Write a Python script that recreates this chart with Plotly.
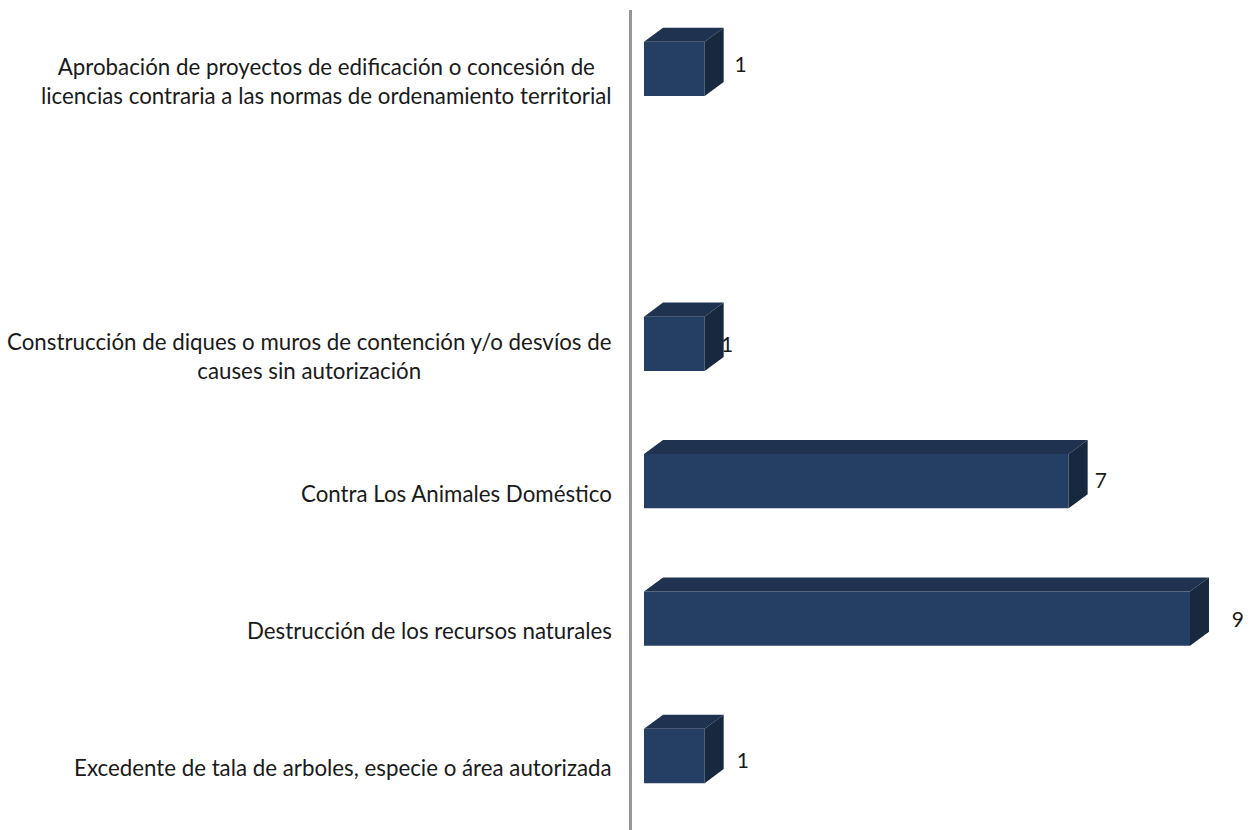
"""Horizontal bars with a drawn 3D look (front, top and side faces)"""

import plotly.graph_objects as go

# Bottom to top, the blank one is the empty slot in the chart
categories = [
    "Excedente de tala de arboles, especie o área autorizada",
    "Destrucción de los recursos naturales",
    "Contra Los Animales Doméstico",
    "Construcción de diques o muros de contención y/o desvíos de<br>causes sin autorización",
    "",
    "Aprobación de proyectos de edificación o concesión de<br>licencias contraria a las normas de ordenamiento territorial",
]
values = [1, 9, 7, 1, None, 1]

# how far each value label sits from the bar end
label_dx = [0.63, 0.79, 0.53, 0.37, 0, 0.59]
label_dy = [-0.046, -0.022, -0.015, -0.022, 0, 0.018]

FRONT = "#243F63"
TOP = "#1F3350"
SIDE = "#18293F"
AXIS_GREY = "#969696"
TEXT = "#1a1a1a"
FONT = "Lato"

BAR_WIDTH = 0.395
DEPTH_X = 0.313
DEPTH_Y = 0.102
LABEL_SHIFT = -0.087  # category text sits a bit under its bar

idx = list(range(len(categories)))
shown = [i for i in idx if values[i] is not None]

top_x, top_y, side_x, side_y = [], [], [], []
for i in shown:
    v = values[i]
    lo = i - BAR_WIDTH / 2
    hi = i + BAR_WIDTH / 2
    top_x += [0, DEPTH_X, v + DEPTH_X, v, 0, None]
    top_y += [hi, hi + DEPTH_Y, hi + DEPTH_Y, hi, hi, None]
    side_x += [v, v + DEPTH_X, v + DEPTH_X, v, v, None]
    side_y += [lo, lo + DEPTH_Y, hi + DEPTH_Y, hi, lo, None]

fig = go.Figure()

fig.add_trace(
    go.Bar(
        y=idx,
        x=values,
        orientation="h",
        width=BAR_WIDTH,
        marker=dict(color=FRONT, line=dict(width=0)),
    )
)

# Labels go first so the side face can cover the one it overlaps
fig.add_trace(
    go.Scatter(
        x=[values[i] + label_dx[i] for i in shown],
        y=[i + label_dy[i] for i in shown],
        text=[str(values[i]) for i in shown],
        mode="text",
        textposition="middle center",
        textfont=dict(family=FONT, size=21, color=TEXT),
        cliponaxis=False,
    )
)

for xs, ys, color in [(top_x, top_y, TOP), (side_x, side_y, SIDE)]:
    fig.add_trace(
        go.Scatter(
            x=xs,
            y=ys,
            mode="lines",
            fill="toself",
            fillcolor=color,
            line=dict(width=0, color=color),
            hoverinfo="skip",
        )
    )

# Category labels are annotations since wrapped ones are centred on themselves
for i in idx:
    if categories[i]:
        fig.add_annotation(
            x=-0.0289,
            xref="paper",
            y=i + LABEL_SHIFT,
            yref="y",
            text=categories[i],
            showarrow=False,
            xanchor="right",
            yanchor="middle",
            align="center",
            font=dict(family=FONT, size=22.3, color=TEXT),
        )

fig.update_layout(
    width=1254,
    height=830,
    margin=dict(l=632, r=0, t=10, b=0),
    paper_bgcolor="white",
    plot_bgcolor="white",
    showlegend=False,
    xaxis=dict(range=[-0.198, 10.055], visible=False),
    yaxis=dict(
        range=[-0.5386, 5.429],
        showgrid=False,
        zeroline=False,
        showticklabels=False,
        ticks="",
        showline=True,
        linecolor=AXIS_GREY,
        linewidth=3,
    ),
)

fig.write_html(
    "out.html",
    config=dict(displayModeBar=False),
    post_script="document.body.style.margin='0';document.body.style.overflow='hidden';",
)
